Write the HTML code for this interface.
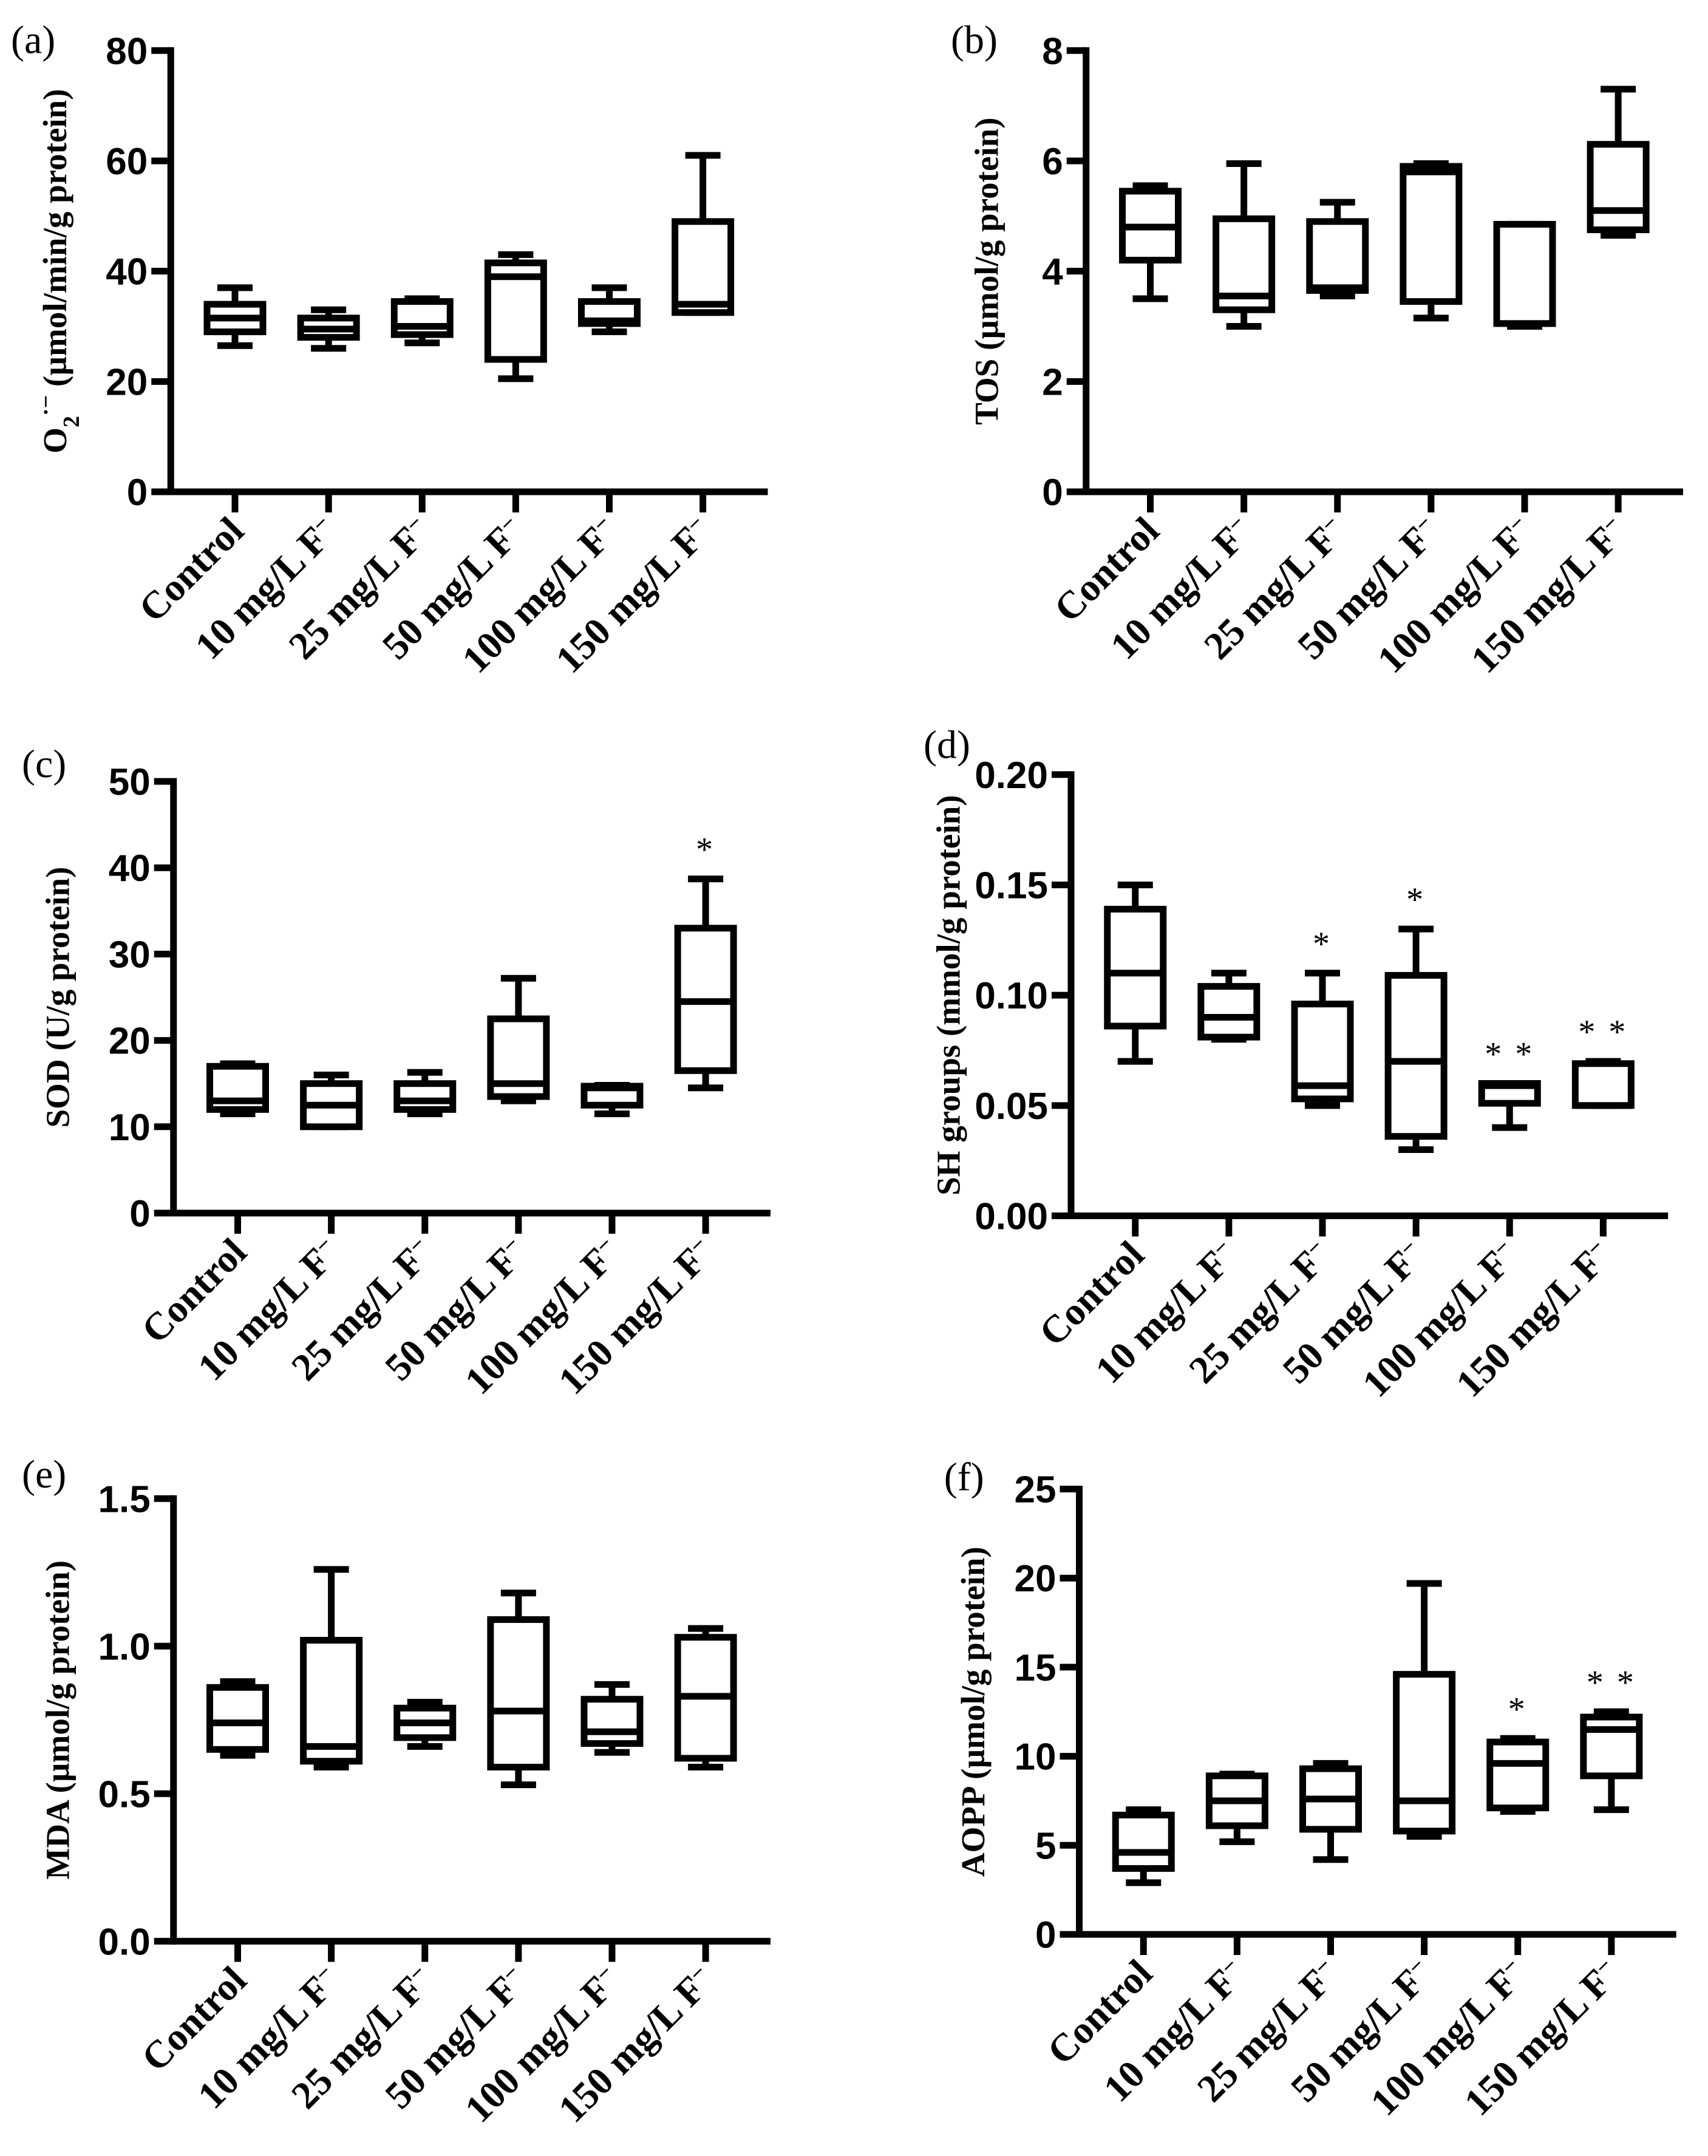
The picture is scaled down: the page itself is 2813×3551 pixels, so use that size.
<!DOCTYPE html>
<html><head><meta charset="utf-8">
<style>
html,body{margin:0;padding:0;background:#fff;}
svg{display:block;}
.tk{font-family:"Liberation Sans",Arial,sans-serif;font-weight:bold;font-size:62px;fill:#000;}
.tt{font-family:"Liberation Serif","DejaVu Serif",serif;font-weight:bold;font-size:55px;fill:#000;}
.cat{font-family:"Liberation Serif","DejaVu Serif",serif;font-weight:bold;font-size:64px;fill:#000;}
.pl{font-family:"Liberation Serif","DejaVu Serif",serif;font-size:66px;fill:#000;}
.st{font-family:"Liberation Serif",serif;font-size:56px;fill:#000;}
</style></head>
<body>
<svg id="fig" width="2813" height="3551" viewBox="0 0 2813 3551" xmlns="http://www.w3.org/2000/svg"></svg>
<script>
const categories = ["Control","10 mg/L F","25 mg/L F","50 mg/L F","100 mg/L F","150 mg/L F"];
// [min, q1, median, q3, max]
const seriesA = [[26.5,29,31.5,34,37],[26,28,29.5,31.5,33],[27,28.5,30,34.5,35],[20.5,24,39,41.5,43],[29,30.5,31,34.5,37],[32.5,32.5,34,49,61]];
const seriesB = [[3.5,4.2,4.8,5.45,5.55],[3.0,3.3,3.55,4.95,5.95],[3.55,3.65,3.7,4.9,5.25],[3.15,3.45,5.8,5.9,5.95],[3.0,3.05,3.05,4.85,4.85],[4.65,4.75,5.1,6.3,7.3]];
const seriesC = [[11.5,12,13,17,17.3],[10,10,12.5,15,16],[11.5,12,13,15,16.3],[13,13.5,15,22.5,27.2],[11.5,12.5,14.5,14.7,14.8],[14.5,16.5,24.5,33,38.7]];
const seriesD = [[0.07,0.086,0.11,0.139,0.15],[0.08,0.081,0.09,0.104,0.11],[0.05,0.053,0.059,0.096,0.11],[0.03,0.036,0.07,0.109,0.13],[0.04,0.051,0.059,0.06,0.06],[0.05,0.05,0.05,0.069,0.07]];
const seriesE = [[0.63,0.65,0.74,0.86,0.88],[0.59,0.61,0.66,1.02,1.26],[0.66,0.69,0.74,0.79,0.81],[0.53,0.59,0.78,1.09,1.18],[0.64,0.67,0.71,0.82,0.87],[0.59,0.62,0.83,1.03,1.06]];
const seriesF = [[2.9,3.7,4.6,6.7,7.0],[5.2,6.1,7.5,8.9,9.0],[4.2,5.9,7.6,9.3,9.6],[5.5,5.8,7.5,14.6,19.7],[6.9,7.1,9.6,10.8,11.0],[7.0,8.9,11.5,12.2,12.5]];
const ticksA = [0,20,40,60,80];
const ticksB = [0,2,4,6,8];
const ticksC = [0,10,20,30,40,50];
const ticksD = ["0.00","0.05","0.10","0.15","0.20"];
const ticksE = ["0.0","0.5","1.0","1.5"];
const ticksF = [0,5,10,15,20,25];
const starsC = ["","","","","","*"];
const starsD = ["","","*","*","**","**"];
const starsF = ["","","","","*","**"];
const starsNone = ["","","","","",""];

const S = 2.25;
const NS = "http://www.w3.org/2000/svg";
const svg = document.getElementById('fig');
function mk(tag, attrs, parent){const e=document.createElementNS(NS,tag);for(const k in attrs)e.setAttribute(k,attrs[k]);(parent||svg).appendChild(e);return e;}

const panels = [
 {id:"a",ax:125,top:37,bot:360,data:seriesA,ticks:ticksA,stars:starsNone,lx:8,ly:30,tx:40,title:"o2"},
 {id:"b",ax:795,top:37,bot:360,data:seriesB,ticks:ticksB,stars:starsNone,lx:696,ly:30,tx:722,title:"TOS (µmol/g protein)"},
 {id:"c",ax:127,top:572,bot:888,data:seriesC,ticks:ticksC,stars:starsC,lx:16,ly:560,tx:42,title:"SOD (U/g protein)"},
 {id:"d",ax:784,top:567,bot:890,data:seriesD,ticks:ticksD,stars:starsD,lx:676,ly:546,tx:694,title:"SH groups (mmol/g protein)"},
 {id:"e",ax:127,top:1097,bot:1421,data:seriesE,ticks:ticksE,stars:starsNone,lx:16,ly:1080,tx:42,title:"MDA (µmol/g protein)"},
 {id:"f",ax:790,top:1090,bot:1416,data:seriesF,ticks:ticksF,stars:starsF,lx:691,ly:1082,tx:712,title:"AOPP (µmol/g protein)"}
];

panels.forEach(p=>{
  const g = mk('g',{});
  
  
  const ax=p.ax*S, top=p.top*S, bot=p.bot*S, right=ax+437*S;
  const tv=p.ticks.map(Number);
  const ymin=tv[0], ymax=tv[tv.length-1];
  const y=v=>bot-(v-ymin)/(ymax-ymin)*(bot-top);
  const x=i=>ax+(47+i*68.5)*S;
  const lw=11;
  const pl=mk('text',{x:p.lx*S,y:p.ly*S+20,class:'pl'},g);
  pl.textContent='('+p.id+')';
  
  
  const ya=mk('line',{x1:ax,y1:top-lw/2,x2:ax,y2:bot+lw/2,stroke:'#000','stroke-width':lw},g);
  
  
  const xa=mk('line',{x1:ax,y1:bot,x2:right,y2:bot,stroke:'#000','stroke-width':lw},g);
  
  
  p.ticks.forEach(t=>{
    const yy=y(Number(t));
    mk('line',{x1:ax-32,y1:yy,x2:ax,y2:yy,stroke:'#000','stroke-width':lw},g);
    const tl=mk('text',{x:ax-38,y:yy+22,'text-anchor':'end',class:'tk'},g);
    tl.textContent=t;
    
    
  });
  const tcx=p.tx*S, tcy=(top+bot)/2;
  const tt=mk('text',{x:tcx,y:tcy,'text-anchor':'middle',class:'tt',transform:`rotate(-90 ${tcx} ${tcy})`,dy:19},g);
  
  
  if(p.title==="o2"){
    tt.appendChild(document.createTextNode('O'));
    const s1=mk('tspan',{'baseline-shift':'sub','font-size':'38px'},tt);s1.textContent='2';
    const s2=mk('tspan',{'baseline-shift':'super','font-size':'38px'},tt);s2.textContent='·−';
    const s3=mk('tspan',{},tt);s3.textContent=' (µmol/min/g protein)';
  } else tt.textContent=p.title;
  categories.forEach((c,i)=>{
    const cx=x(i);
    mk('line',{x1:cx,y1:bot,x2:cx,y2:bot+34,stroke:'#000','stroke-width':lw},g);
    const ty=bot+68;
    const cl=mk('text',{x:cx+18,y:ty,'text-anchor':'end',class:'cat',transform:`rotate(-45 ${cx+18} ${ty})`},g);
    
    
    cl.textContent=c;
    if(i>0){const sp=mk('tspan',{'baseline-shift':'super','font-size':'38px'},cl);sp.textContent='−';}
  });
  p.data.forEach((d,i)=>{
    const cx=x(i), bw=92, cw=58;
    const bg=mk('g',{fill:'none',stroke:'#000','stroke-width':lw},g);
    
    
    mk('line',{x1:cx,y1:y(d[0]),x2:cx,y2:y(d[1])},bg);
    mk('line',{x1:cx,y1:y(d[3]),x2:cx,y2:y(d[4])},bg);
    mk('line',{x1:cx-cw/2,y1:y(d[0]),x2:cx+cw/2,y2:y(d[0])},bg);
    mk('line',{x1:cx-cw/2,y1:y(d[4]),x2:cx+cw/2,y2:y(d[4])},bg);
    mk('rect',{x:cx-bw/2,y:y(d[3]),width:bw,height:Math.max(0,y(d[1])-y(d[3])),fill:'#fff'},bg);
    mk('line',{x1:cx-bw/2,y1:y(d[2]),x2:cx+bw/2,y2:y(d[2])},bg);
    if(p.stars[i]){
      const st=mk('text',{x:cx,y:y(d[4])-30,'text-anchor':'middle',class:'st','letter-spacing':'4'},g);
      st.textContent=p.stars[i].split('').join(' ');
      
      
    }
  });
});
</script>
</body></html>
